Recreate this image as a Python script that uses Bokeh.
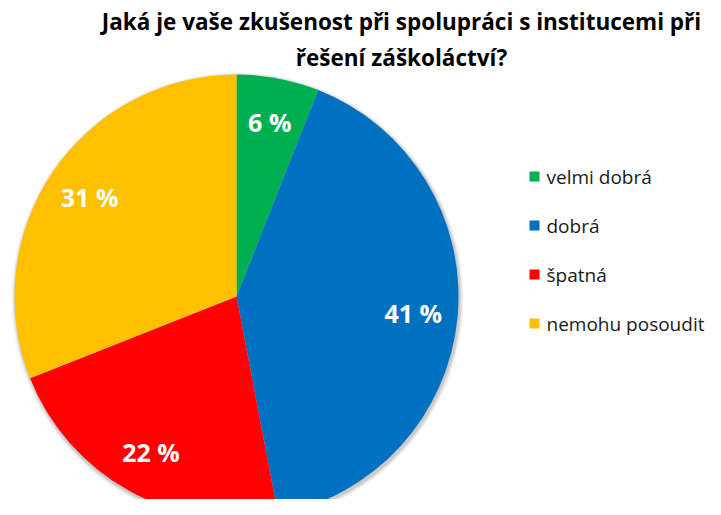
import math
from bokeh.plotting import figure
from bokeh.models import Range1d, ColumnDataSource
from bokeh.core.properties import value
from bokeh.embed import file_html
from bokeh.resources import INLINE

# Data
categories = ["velmi dobrá", "dobrá", "špatná", "nemohu posoudit"]
shares = [6, 41, 22, 31]
colors = ["#00B050", "#0070C0", "#FF0000", "#FFC000"]
title_lines = ["Jaká je vaše zkušenost při spolupráci s institucemi při", "řešení záškoláctví?"]

W, H = 705, 499
FONT = "Open Sans"

p = figure(width=W, height=H, output_backend="svg", toolbar_location=None,
           x_range=Range1d(0, 705), y_range=Range1d(16, 515), min_border=0)
p.axis.visible = False
p.grid.visible = False
p.outline_line_color = None
p.background_fill_color = "white"
p.border_fill_color = "white"

def Y(pix):
    return 515 - pix

cx, cy, R = 236, Y(296), 222
total = sum(shares)
starts, ends, mids = [], [], []
cum = 0
for s in shares:
    f0 = cum / total
    cum += s
    f1 = cum / total
    starts.append(math.pi / 2 - 2 * math.pi * f0)
    ends.append(math.pi / 2 - 2 * math.pi * f1)
    mids.append(math.pi / 2 - 2 * math.pi * (f0 + f1) / 2)

# soft shadow
for k, a in [(4, 0.04), (3, 0.05), (2, 0.06), (1, 0.07)]:
    p.circle(x=[cx + 1], y=[cy - 2], radius=R + k, radius_units="data",
             fill_color="#000000", fill_alpha=a, line_color=None)

src = ColumnDataSource(dict(start=starts, end=ends, color=colors, cat=categories))
p.wedge(x=cx, y=cy, radius=R, start_angle="start", end_angle="end",
        direction="clock", fill_color="color", line_color="white", line_width=0,
        source=src)

# data labels
lr = 0.80 * R
lx = [cx + lr * math.cos(a) for a in mids]
ly = [cy + lr * math.sin(a) for a in mids]
labels = [f"{s} %" for s in shares]
p.text(x=lx, y=ly, text=labels, text_color="white", text_font=value(FONT),
       text_font_style="bold", text_font_size="25px", text_align="center",
       text_baseline="middle")

# title
p.text(x=[401, 401], y=[Y(21), Y(57)], text=title_lines, text_color="#000000",
       text_font=value(FONT), text_font_style="bold", text_font_size="22.5px",
       text_align="center", text_baseline="middle")

# legend
leg_y = [Y(176 + i * 49) for i in range(len(categories))]
p.scatter(x=[534] * len(categories), y=leg_y, marker="square", size=10,
          fill_color=colors, line_color=None)
p.text(x=[546] * len(categories), y=leg_y, text=categories, text_color="#1a1a1a",
       text_font=value(FONT), text_font_size="19px", text_align="left",
       text_baseline="middle")

open("out.html", "w").write(file_html(p, INLINE))
